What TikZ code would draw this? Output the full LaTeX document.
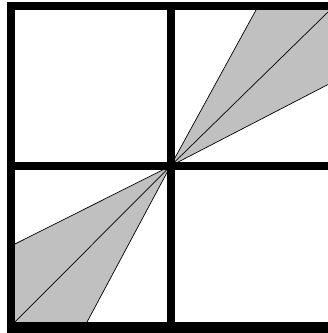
\documentclass[tikz,border=0pt]{standalone}
\usetikzlibrary{calc}
\definecolor{wedgegray}{RGB}{192,192,192}
\begin{document}
\begin{tikzpicture}[x=1pt,y=-1pt]
  % two shaded wedges through the centre of a 2x2 grid
  \tikzset{wedge/.style={fill=wedgegray,draw=black,line width=0.7pt},
           ray/.style={draw=black,line width=0.7pt},
           bar/.style={line width=8pt}}
  \useasboundingbox (0,0) rectangle (328,333);
  \coordinate (c) at (170.5,166);
  % upper right wedge
  \filldraw[wedge] (c) -- (258.2,6) -- (331.5,6) -- (331.5,82.7) -- cycle;
  \draw[ray] (c) -- (331.5,8.6);
  % lower left wedge
  \filldraw[wedge] (c) -- (84.9,326) -- (11,326) -- (11,246) -- cycle;
  \draw[ray] (c) -- (11,326);
  % frame and cross
  \draw[bar] (11,6) rectangle (331.5,326);
  \fill (7,326) rectangle (335,333);
  \draw[bar] (c |- 0,6) -- (c |- 0,326);
  \draw[bar] (c -| 11,0) -- (c -| 331.5,0);
\end{tikzpicture}
\end{document}
